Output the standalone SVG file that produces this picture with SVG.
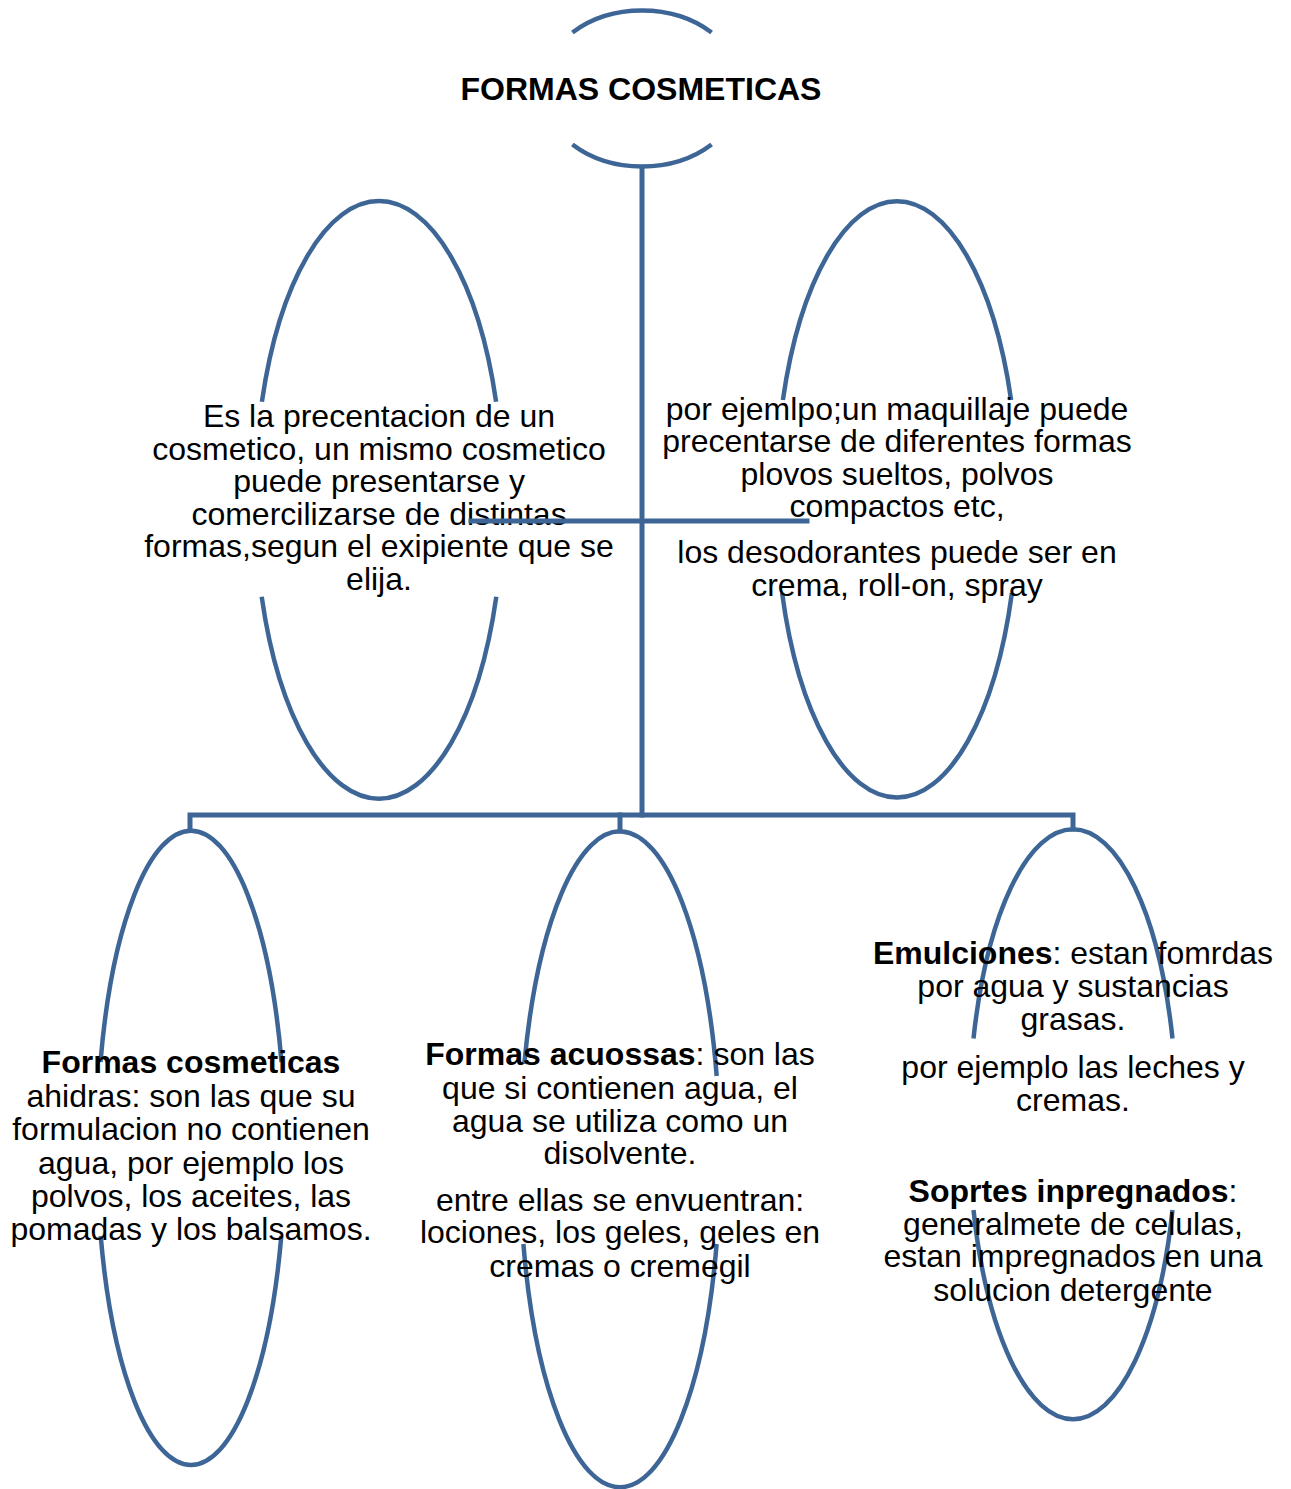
<svg xmlns="http://www.w3.org/2000/svg" width="1291" height="1489" viewBox="0 0 1291 1489">
  <style>
    .shape { fill: none; stroke: #3D6697; stroke-width: 4.5; stroke-linecap: butt; }
    .conn { fill: none; stroke: #3D6697; stroke-width: 5; stroke-linecap: square; stroke-linejoin: miter; }
    text { font-family: "Liberation Sans", Arial, sans-serif; font-size: 32px; fill: #000; text-anchor: middle; }
    .b { font-weight: bold; }
  </style>
  <rect width="1291" height="1489" fill="#fff"/>

  <g id="node-title">
    <path class="shape" d="M 572.4 32.5 A 100 78 0 0 1 711.6 32.5"/>
    <path class="shape" d="M 572.4 144.5 A 100 78 0 0 0 711.6 144.5"/>
    <text class="b" x="641" y="100">FORMAS COSMETICAS</text>
  </g>

  <g id="node-definicion">
    <path class="shape" d="M 261.9 401.7 A 124 299 0 0 1 496.1 401.7"/>
    <path class="shape" d="M 261.7 596.7 A 124 299 0 0 0 496.3 596.7"/>
    <text x="379" y="427">Es la precentacion de un</text>
    <text x="379" y="459.5">cosmetico, un mismo cosmetico</text>
    <text x="379" y="492">puede presentarse y</text>
    <text x="379" y="524.5">comercilizarse de distintas</text>
    <text x="379" y="557">formas,segun el exipiente que se</text>
    <text x="379" y="589.5">elija.</text>
  </g>

  <g id="node-ejemplo">
    <path class="shape" d="M 782.9 400 A 121 298 0 0 1 1011.1 400"/>
    <path class="shape" d="M 782.1 593 A 121 298 0 0 0 1011.9 593"/>
    <text x="897" y="419.5">por ejemlpo;un maquillaje puede</text>
    <text x="897" y="452">precentarse de diferentes formas</text>
    <text x="897" y="484.5">plovos sueltos, polvos</text>
    <text x="897" y="517">compactos etc,</text>
    <text x="897" y="563">los desodorantes puede ser en</text>
    <text x="897" y="595.5">crema, roll-on, spray</text>
  </g>

  <g id="node-anhidras">
    <path class="shape" d="M 100.5 1062 A 94 317 0 0 1 281.5 1062"/>
    <path class="shape" d="M 100.7 1236 A 94 317 0 0 0 281.3 1236"/>
    <text x="191" y="1073"><tspan class="b">Formas cosmeticas</tspan></text>
    <text x="191" y="1106.5">ahidras: son las que su</text>
    <text x="191" y="1140">formulacion no contienen</text>
    <text x="191" y="1173.5">agua, por ejemplo los</text>
    <text x="191" y="1207">polvos, los aceites, las</text>
    <text x="191" y="1240">pomadas y los balsamos.</text>
  </g>

  <g id="node-acuosas">
    <path class="shape" d="M 524.3 1064 A 100 328 0 0 1 716.7 1076"/>
    <path class="shape" d="M 523.4 1244 A 100 328 0 0 0 716.6 1244"/>
    <text x="620" y="1065"><tspan class="b">Formas acuossas</tspan>: son las</text>
    <text x="620" y="1098.5">que si contienen agua, el</text>
    <text x="620" y="1131.5">agua se utiliza como un</text>
    <text x="620" y="1164">disolvente.</text>
    <text x="620" y="1210.5">entre ellas se envuentran:</text>
    <text x="620" y="1243">lociones, los geles, geles en</text>
    <text x="620" y="1276.5">cremas o cremegil</text>
  </g>

  <g id="node-emulsiones">
    <path class="shape" d="M 973.5 1038.5 A 104 295 0 0 1 1172.5 1038.5"/>
    <path class="shape" d="M 973.5 1210 A 104 295 0 0 0 1172.5 1210"/>
    <text x="1073" y="964"><tspan class="b">Emulciones</tspan>: estan fomrdas</text>
    <text x="1073" y="997">por agua y sustancias</text>
    <text x="1073" y="1030">grasas.</text>
    <text x="1073" y="1077.5">por ejemplo las leches y</text>
    <text x="1073" y="1111">cremas.</text>
    <text x="1073" y="1201.5"><tspan class="b">Soprtes inpregnados</tspan>:</text>
    <text x="1073" y="1234.5">generalmete de celulas,</text>
    <text x="1073" y="1267">estan impregnados en una</text>
    <text x="1073" y="1300.5">solucion detergente</text>
  </g>

  <g id="connectors">
    <line class="conn" x1="642" y1="168" x2="642" y2="815"/>
    <line class="conn" x1="471" y1="521" x2="807" y2="521"/>
    <polyline class="conn" points="190,830 190,815 1073,815 1073,829"/>
    <line class="conn" x1="620" y1="815" x2="620" y2="831"/>
  </g>
</svg>
